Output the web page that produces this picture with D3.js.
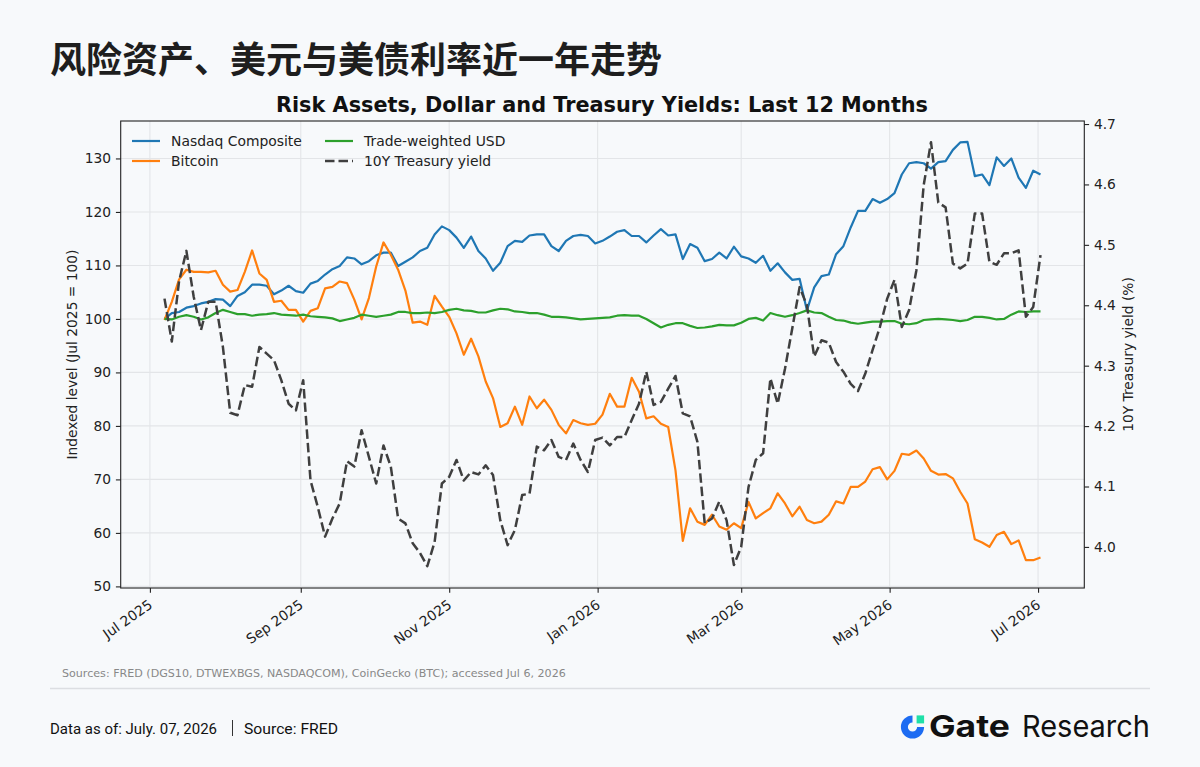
<!DOCTYPE html>
<html lang="zh">
<head>
<meta charset="UTF-8">
<title>风险资产、美元与美债利率近一年走势</title>
<script src="https://cdn.jsdelivr.net/npm/d3@7"></script>
<style>
  html, body { margin: 0; padding: 0; background: #f7f9fb; }
  svg { display: block; }
  .axis text { font-family: "DejaVu Sans", sans-serif; font-size: 13.8px; fill: #222; }
  .axis line { stroke: #222; stroke-width: 1.1; }
  .axis path { display: none; }
</style>
</head>
<body>
<svg id="chart" width="1200" height="767"></svg>
<script>
// samples every 3 days, first one on this date
const seriesStart = "2025-07-07";
const stepDays = 3;

// Nasdaq Composite, indexed (Jul 2025 = 100)
const nasdaq = [
  100.0, 101.1, 101.3, 102.1, 102.4, 102.9, 103.2, 103.7, 103.6, 102.4,
  104.3, 105.0, 106.4, 106.4, 106.2, 104.6, 105.3, 106.2, 105.2, 104.9,
  106.6, 107.1, 108.3, 109.3, 109.9, 111.5, 111.3, 110.2, 110.8, 111.9,
  112.4, 112.4, 109.9, 110.7, 111.5, 112.7, 113.3, 115.8, 117.3, 116.6,
  115.2, 113.3, 115.4, 112.7, 111.3, 109.0, 110.5, 113.6, 114.6, 114.4,
  115.6, 115.8, 115.8, 113.6, 112.7, 114.6, 115.5, 115.7, 115.5, 114.1,
  114.6, 115.4, 116.3, 116.6, 115.5, 115.5, 114.3, 115.6, 116.8, 115.6,
  115.8, 111.2, 114.0, 113.3, 110.8, 111.2, 112.4, 111.3, 113.5, 111.7,
  111.3, 110.5, 111.8, 109.0, 110.4, 108.7, 107.3, 107.5, 101.6, 105.9,
  108.0, 108.3, 112.1, 113.6, 117.1, 120.2, 120.2, 122.4, 121.7, 122.4,
  123.5, 127.0, 129.1, 129.3, 129.1, 128.1, 129.3, 129.5, 131.6, 133.0,
  133.1, 126.7, 127.0, 125.0, 130.2, 128.6, 130.0, 126.4, 124.5, 127.7,
  127.0
];

// Bitcoin, indexed
const bitcoin = [
  99.8, 103.2, 107.4, 109.2, 108.8, 108.8, 108.7, 109.0, 106.4, 105.1,
  105.4, 108.8, 112.8, 108.5, 107.3, 103.2, 103.4, 101.7, 101.7, 99.5,
  101.5, 102.0, 105.7, 106.0, 107.0, 106.7, 103.6, 99.9, 103.9, 109.8,
  114.3, 112.0, 109.2, 105.3, 99.3, 99.5, 98.9, 104.3, 102.3, 100.4,
  97.3, 93.3, 96.3, 93.0, 88.3, 85.2, 79.8, 80.5, 83.6, 80.2,
  85.5, 83.3, 84.9, 83.0, 80.2, 78.6, 81.1, 80.5, 80.2, 80.4,
  82.1, 86.0, 83.6, 83.6, 89.0, 86.4, 81.4, 81.8, 80.4, 79.8,
  71.7, 58.5, 64.6, 62.1, 61.5, 63.4, 61.2, 60.6, 61.8, 60.9,
  65.8, 62.7, 63.7, 64.6, 67.4, 65.5, 63.1, 64.9, 62.4, 61.8,
  62.1, 63.4, 65.9, 65.5, 68.6, 68.6, 69.6, 71.9, 72.3, 70.0,
  71.6, 74.8, 74.6, 75.4, 73.9, 71.6, 70.9, 71.0, 70.2, 67.7,
  65.5, 58.8, 58.2, 57.4, 59.6, 60.2, 57.9, 58.6, 54.9, 54.9,
  55.4
];

// Trade-weighted USD, indexed
const usd = [
  100.0, 99.9, 100.4, 100.7, 100.4, 99.9, 100.3, 101.1, 101.7, 101.3,
  100.9, 100.9, 100.6, 100.8, 100.9, 101.1, 100.8, 100.7, 100.6, 100.8,
  100.5, 100.4, 100.3, 100.1, 99.6, 99.9, 100.2, 100.8, 100.6, 100.4,
  100.6, 100.8, 101.3, 101.3, 101.1, 101.1, 101.2, 101.1, 101.3, 101.7,
  101.9, 101.6, 101.5, 101.2, 101.2, 101.6, 101.9, 101.8, 101.4, 101.3,
  101.1, 101.1, 100.8, 100.4, 100.4, 100.3, 100.1, 99.9, 100.0, 100.1,
  100.2, 100.3, 100.6, 100.7, 100.6, 100.6, 100.0, 99.2, 98.4, 98.9,
  99.2, 99.2, 98.7, 98.3, 98.4, 98.6, 98.9, 98.8, 98.8, 99.3,
  100.0, 100.2, 99.7, 101.1, 100.7, 100.4, 100.7, 101.1, 101.6, 101.2,
  101.1, 100.4, 99.8, 99.7, 99.3, 99.1, 99.3, 99.5, 99.5, 99.6,
  99.6, 99.1, 99.0, 99.2, 99.8, 99.9, 100.0, 99.9, 99.8, 99.6,
  99.8, 100.4, 100.4, 100.2, 99.9, 100.0, 100.8, 101.4, 101.3, 101.4,
  101.4
];

// 10Y Treasury yield, %
const treasury = [
  4.411, 4.340, 4.440, 4.490, 4.414, 4.359, 4.406, 4.406, 4.331, 4.222,
  4.218, 4.268, 4.265, 4.331, 4.320, 4.309, 4.276, 4.237, 4.226, 4.276,
  4.110, 4.066, 4.017, 4.047, 4.072, 4.142, 4.133, 4.193, 4.149, 4.105,
  4.168, 4.133, 4.047, 4.039, 4.006, 3.990, 3.968, 4.008, 4.105, 4.116,
  4.144, 4.110, 4.124, 4.120, 4.135, 4.119, 4.044, 4.003, 4.028, 4.086,
  4.088, 4.166, 4.160, 4.177, 4.149, 4.144, 4.171, 4.144, 4.124, 4.177,
  4.181, 4.168, 4.182, 4.182, 4.210, 4.237, 4.290, 4.235, 4.240, 4.262,
  4.283, 4.221, 4.216, 4.174, 4.039, 4.047, 4.075, 4.044, 3.970, 4.000,
  4.099, 4.144, 4.155, 4.279, 4.237, 4.295, 4.362, 4.430, 4.400, 4.315,
  4.342, 4.338, 4.306, 4.290, 4.270, 4.258, 4.287, 4.326, 4.364, 4.411,
  4.442, 4.364, 4.392, 4.458, 4.599, 4.670, 4.570, 4.562, 4.469, 4.461,
  4.469, 4.552, 4.552, 4.472, 4.467, 4.486, 4.486, 4.491, 4.381, 4.397,
  4.483
];

const leftTicks = [50, 60, 70, 80, 90, 100, 110, 120, 130];
const rightTicks = [4.0, 4.1, 4.2, 4.3, 4.4, 4.5, 4.6, 4.7];
const monthTicks = ["2025-07-01", "2025-09-01", "2025-11-01", "2026-01-01",
                    "2026-03-01", "2026-05-01", "2026-07-01"];
const seriesNames = ["Nasdaq Composite", "Bitcoin", "Trade-weighted USD", "10Y Treasury yield"];

const svg = d3.select("#chart");
const parse = d3.timeParse("%Y-%m-%d");

// plot box
const pL = 120.7, pR = 1084.3, pT = 121, pB = 588;

const start = parse(seriesStart);
const dates = d3.timeDay.range(start, d3.timeDay.offset(start, stepDays * (nasdaq.length - 1) + 1), stepDays);
const end = dates[dates.length - 1];

const x = d3.scaleTime()
  .domain([d3.timeDay.offset(start, -18), d3.timeDay.offset(end, 18)])
  .range([pL, pR]);
const yL = d3.scaleLinear().domain([49.7, 137.0]).range([pB, pT]);
const yR = d3.scaleLinear().domain([3.932, 4.705]).range([pB, pT]);

const tickDates = monthTicks.map(parse);

// grid
const grid = svg.append("g").attr("stroke", "#e3e5e8").attr("stroke-width", 1.1);
grid.selectAll(".gy").data(leftTicks).enter().append("line")
  .attr("x1", pL).attr("x2", pR)
  .attr("y1", d => yL(d)).attr("y2", d => yL(d));
grid.selectAll(".gx").data(tickDates).enter().append("line")
  .attr("x1", d => x(d)).attr("x2", d => x(d))
  .attr("y1", pT).attr("y2", pB);

svg.append("defs").append("clipPath").attr("id", "plot")
  .append("rect").attr("x", pL).attr("y", pT)
  .attr("width", pR - pL).attr("height", pB - pT);

const lines = svg.append("g").attr("clip-path", "url(#plot)")
  .attr("fill", "none").attr("stroke-linejoin", "round");

function drawLine(values, yScale, color, width, dash) {
  const line = d3.line()
    .x((d, i) => x(dates[i]))
    .y(d => yScale(d));
  lines.append("path")
    .datum(values)
    .attr("d", line)
    .attr("stroke", color)
    .attr("stroke-width", width)
    .attr("stroke-dasharray", dash);
}

drawLine(nasdaq, yL, "#1f77b4", 2.2, null);
drawLine(bitcoin, yL, "#ff7f0e", 2.2, null);
drawLine(usd, yL, "#2ca02c", 2.2, null);
drawLine(treasury, yR, "#3f3f3f", 2.5, "9.5,4");

// frame
svg.append("rect")
  .attr("x", pL).attr("y", pT)
  .attr("width", pR - pL).attr("height", pB - pT)
  .attr("fill", "none").attr("stroke", "#222").attr("stroke-width", 1.1);

// axes
svg.append("g").attr("class", "axis")
  .attr("transform", `translate(${pL},0)`)
  .call(d3.axisLeft(yL).tickValues(leftTicks).tickSize(4.8).tickPadding(4.8));

svg.append("g").attr("class", "axis")
  .attr("transform", `translate(${pR},0)`)
  .call(d3.axisRight(yR).tickValues(rightTicks).tickFormat(d3.format(".1f")).tickSize(4.8).tickPadding(4.8));

const xAxis = svg.append("g").attr("class", "axis")
  .attr("transform", `translate(0,${pB})`)
  .call(d3.axisBottom(x).tickValues(tickDates).tickFormat(d3.timeFormat("%b %Y")).tickSize(4.8).tickPadding(4.8));
xAxis.selectAll("text")
  .attr("x", 0).attr("y", 0)
  .attr("dy", "0.75em")
  .attr("text-anchor", "end")
  .attr("transform", "translate(-3,10.5) rotate(-35)");

// axis labels
svg.append("text")
  .attr("transform", `translate(72,${(pT + pB) / 2}) rotate(-90)`)
  .attr("text-anchor", "middle").attr("dy", "0.35em")
  .style("font-family", "DejaVu Sans").style("font-size", "13.8px").attr("fill", "#222")
  .text("Indexed level (Jul 2025 = 100)");

svg.append("text")
  .attr("transform", `translate(1128,${(pT + pB) / 2}) rotate(-90)`)
  .attr("text-anchor", "middle").attr("dy", "0.35em")
  .style("font-family", "DejaVu Sans").style("font-size", "13.8px").attr("fill", "#222")
  .text("10Y Treasury yield (%)");

// titles
svg.append("text")
  .attr("x", 50).attr("y", 73)
  .style("font-family", "'Noto Sans CJK SC'").style("font-weight", 700).style("font-size", "36px")
  .attr("fill", "#1e1e1e")
  .text("风险资产、美元与美债利率近一年走势");

svg.append("text")
  .attr("x", (pL + pR) / 2 - 0.5).attr("y", 112)
  .attr("text-anchor", "middle")
  .style("font-family", "DejaVu Sans").style("font-weight", 700).style("font-size", "20.8px")
  .attr("fill", "#111")
  .text("Risk Assets, Dollar and Treasury Yields: Last 12 Months");

// legend
const legendPos = [[132, 141], [132, 161], [325, 141], [325, 161]];
const legendStyle = [["#1f77b4", null, 2.2], ["#ff7f0e", null, 2.2], ["#2ca02c", null, 2.2], ["#3f3f3f", "9.5,4", 2.5]];
const legend = svg.append("g").selectAll("g").data(seriesNames).enter().append("g")
  .attr("transform", (d, i) => `translate(${legendPos[i][0]},${legendPos[i][1]})`);
legend.append("line")
  .attr("x1", 0).attr("x2", 28).attr("y1", 0).attr("y2", 0)
  .attr("stroke", (d, i) => legendStyle[i][0])
  .attr("stroke-dasharray", (d, i) => legendStyle[i][1])
  .attr("stroke-width", (d, i) => legendStyle[i][2]);
legend.append("text")
  .attr("x", 39).attr("dy", "0.36em")
  .style("font-family", "DejaVu Sans").style("font-size", "13.9px").attr("fill", "#222")
  .text(d => d);

// footer
svg.append("text")
  .attr("x", 62).attr("y", 677)
  .style("font-family", "DejaVu Sans").style("font-size", "11.1px").attr("fill", "#888")
  .text("Sources: FRED (DGS10, DTWEXBGS, NASDAQCOM), CoinGecko (BTC); accessed Jul 6, 2026");

svg.append("line")
  .attr("x1", 50).attr("x2", 1150).attr("y1", 688.5).attr("y2", 688.5)
  .attr("stroke", "#dcdee2").attr("stroke-width", 1.5);

const foot = svg.append("g")
  .style("font-family", "Roboto, 'Noto Sans', sans-serif").style("font-size", "14.5px").attr("fill", "#111");
foot.append("text").attr("x", 50).attr("y", 733.5)
  .attr("textLength", 167).attr("lengthAdjust", "spacingAndGlyphs")
  .text("Data as of: July. 07, 2026");
foot.append("line").attr("x1", 232.5).attr("x2", 232.5).attr("y1", 720).attr("y2", 736)
  .attr("stroke", "#333").attr("stroke-width", 1);
foot.append("text").attr("x", 244).attr("y", 733.5)
  .attr("textLength", 94).attr("lengthAdjust", "spacingAndGlyphs")
  .text("Source:  FRED");

// Gate Research logo
const logo = svg.append("g");
logo.append("path")
  .attr("transform", "translate(912.5,727)")
  .attr("d", d3.arc().innerRadius(4.6).outerRadius(11.6).startAngle(Math.PI / 2).endAngle(2 * Math.PI)())
  .attr("fill", "#1d6cf2");
logo.append("rect")
  .attr("x", 916.6).attr("y", 715.4).attr("width", 7.5).attr("height", 8)
  .attr("fill", "#1fe0a8");
logo.append("text").attr("x", 929).attr("y", 737)
  .style("font-family", "Inter").style("font-weight", 700).style("font-size", "30px").attr("fill", "#111")
  .attr("textLength", 81).attr("lengthAdjust", "spacingAndGlyphs")
  .text("Gate");
logo.append("text").attr("x", 1022).attr("y", 737)
  .style("font-family", "Inter").style("font-weight", 400).style("font-size", "30px").attr("fill", "#111")
  .attr("textLength", 128).attr("lengthAdjust", "spacingAndGlyphs")
  .text("Research");
</script>
</body>
</html>
